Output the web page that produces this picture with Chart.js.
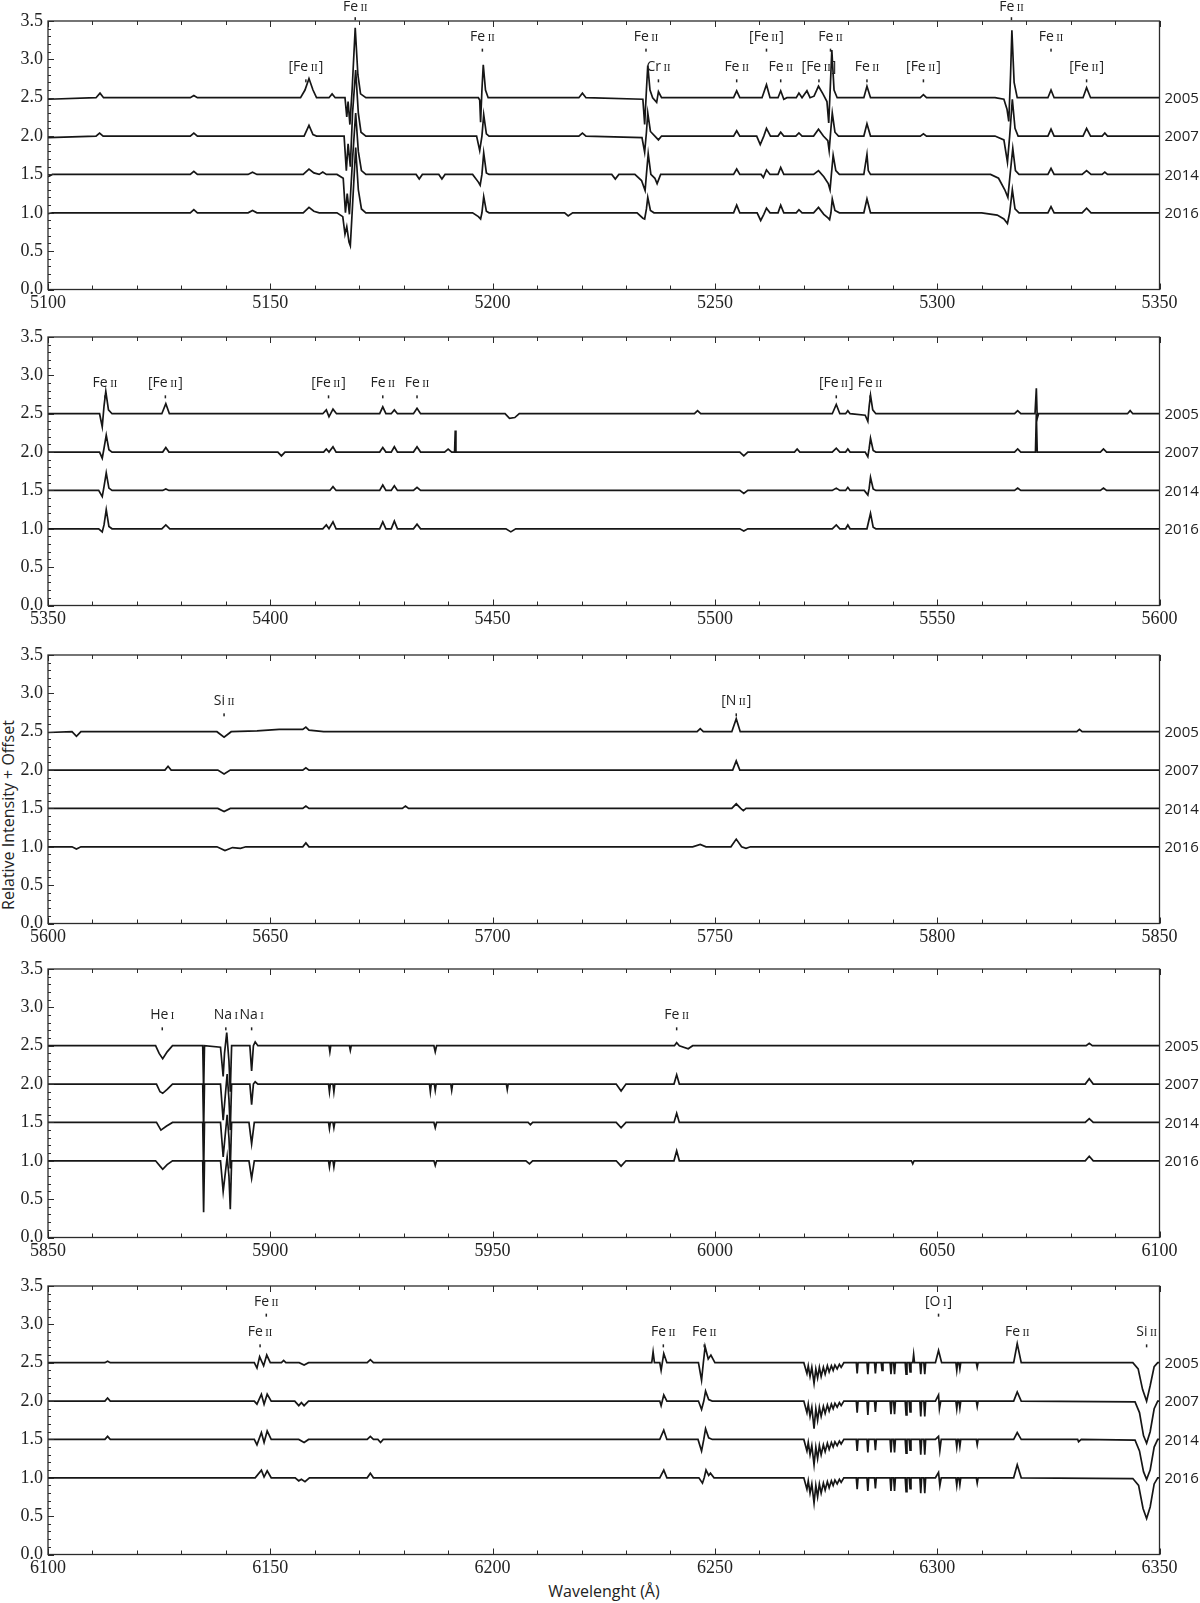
<!DOCTYPE html>
<html><head><meta charset="utf-8">
<script src="https://cdn.jsdelivr.net/npm/chart.js@4.4.1/dist/chart.umd.min.js"></script>
<style>
body{margin:0;background:#fff;width:1200px;height:1603px;position:relative;overflow:hidden}
canvas{position:absolute;left:0}
.anchor{position:absolute;width:0;height:0}
.anchor span{position:absolute;white-space:nowrap;font-family:"Open Sans";color:#222;font-size:16px;transform:translate(-50%,-50%)}
#ylab span{transform:translate(-50%,-50%) rotate(-90deg)}
</style></head><body>
<div class="anchor" id="ylab" style="left:8px;top:815px"><span>Relative Intensity + Offset</span></div>
<div class="anchor" id="xlab" style="left:604px;top:1591px"><span>Wavelenght (Å)</span></div>
<script>
// ---------------- DATA ----------------
const years = ['2005','2007','2014','2016'];
const yearLevels = [2.5, 2.0, 1.5, 1.0];
const yTicks = [0, 0.5, 1.0, 1.5, 2.0, 2.5, 3.0, 3.5];
const xTicks1 = [5100,5150,5200,5250,5300,5350];
const xTicks2 = [5350,5400,5450,5500,5550,5600];
const xTicks3 = [5600,5650,5700,5750,5800,5850];
const xTicks4 = [5850,5900,5950,6000,6050,6100];
const xTicks5 = [6100,6150,6200,6250,6300,6350];

// Panel 1 (5100-5350)
const p1_2005 = [[5100,2.48],[5110.8,2.5],[5111.7,2.56],[5112.5,2.5],[5132,2.5],[5132.8,2.53],[5133.6,2.5],
[5156.8,2.5],[5157.8,2.6],[5158.7,2.75],[5159.6,2.6],[5160.4,2.5],[5163.2,2.5],[5163.9,2.55],[5164.6,2.5],
[5166.8,2.5],[5167.2,2.25],[5167.5,2.45],[5167.9,2.15],[5168.4,2.6],[5169.1,3.41],[5169.7,2.8],[5170.3,2.55],[5171.5,2.5],
[5196.8,2.5],[5197.1,2.47],[5197.3,2.18],[5197.6,2.6],[5197.9,2.93],[5198.4,2.6],[5199,2.5],
[5219.4,2.5],[5220.2,2.56],[5221,2.5],
[5233.8,2.48],[5234.2,2.15],[5234.6,2.6],[5234.9,2.92],[5235.4,2.6],[5236,2.5],[5236.9,2.44],[5237.3,2.58],[5238,2.5],
[5254.2,2.5],[5254.9,2.59],[5255.6,2.5],[5260.6,2.5],[5261.6,2.67],[5262.4,2.5],
[5264.2,2.5],[5264.8,2.59],[5265.5,2.48],[5266.2,2.5],[5268.3,2.5],[5268.9,2.56],[5269.6,2.5],[5270.7,2.59],[5271.4,2.5],
[5272.3,2.52],[5273.3,2.65],[5274.3,2.55],[5275.2,2.45],[5275.6,2.17],[5276.0,2.7],[5276.3,3.12],[5276.8,2.6],[5277.5,2.5],
[5283.5,2.5],[5284.2,2.65],[5285,2.5],[5296.2,2.5],[5296.9,2.54],[5297.6,2.5],
[5313,2.5],[5315,2.48],[5315.7,2.35],[5316.1,2.19],[5316.5,2.8],[5316.8,3.38],[5317.3,2.7],[5318,2.5],
[5324.9,2.5],[5325.6,2.6],[5326.3,2.5],[5332.8,2.5],[5333.6,2.63],[5334.5,2.5],[5350,2.5]];
const p1_2007 = [[5100,1.98],[5110.8,2.0],[5111.6,2.04],[5112.4,2.0],[5132,2.0],[5132.8,2.04],[5133.6,2.0],
[5157.6,2.0],[5158.7,2.14],[5159.6,2.02],[5160.4,2.0],
[5166.6,2.0],[5167.1,1.55],[5167.5,1.9],[5168.0,1.6],[5168.5,2.3],[5169.2,2.86],[5169.8,2.3],[5170.4,2.05],[5171.5,2.0],
[5196.4,2.0],[5197.1,1.81],[5197.6,2.0],[5198.0,2.28],[5198.6,2.03],[5199.2,2.0],
[5219.4,2.0],[5220.2,2.04],[5221,2.0],
[5233.6,1.98],[5234.2,1.79],[5234.6,2.05],[5234.9,2.3],[5235.5,2.06],[5236.5,2.0],[5237.3,1.95],[5238,2.0],
[5254.2,2.0],[5254.9,2.07],[5255.6,2.0],[5259.4,2.0],[5260.2,1.89],[5261.0,2.0],[5261.6,2.1],[5262.5,2.0],
[5264.2,2.0],[5264.8,2.05],[5265.5,2.0],[5268.2,2.0],[5268.9,2.04],[5269.6,2.0],
[5272.2,2.0],[5273.3,2.09],[5274.4,2.0],[5275.4,1.94],[5275.7,1.81],[5276.1,2.1],[5276.4,2.3],[5277,2.05],[5277.8,2.0],
[5283.5,2.0],[5284.2,2.16],[5285,2.0],[5296.2,2.0],[5296.9,2.03],[5297.6,2.0],
[5313,2.0],[5315,1.95],[5315.8,1.66],[5316.3,2.0],[5316.9,2.48],[5317.5,2.1],[5318.2,2.0],
[5324.9,2.0],[5325.6,2.09],[5326.3,2.0],[5332.8,2.0],[5333.6,2.1],[5334.5,2.0],[5337.1,2.0],[5337.7,2.04],[5338.3,2.0],[5350,2.0]];
const p1_2014 = [[5100,1.47],[5101,1.5],[5132,1.5],[5132.8,1.54],[5133.6,1.5],[5145,1.5],[5146,1.53],[5147,1.5],
[5157.4,1.5],[5158.7,1.57],[5159.8,1.52],[5161,1.5],[5161.8,1.53],[5162.6,1.5],
[5165,1.5],[5166.4,1.45],[5166.9,1.0],[5167.3,1.25],[5167.8,0.98],[5168.5,1.7],[5169.2,2.3],[5169.8,1.8],[5170.5,1.55],[5171.5,1.5],
[5182.8,1.5],[5183.5,1.44],[5184.2,1.5],[5187.9,1.5],[5188.6,1.44],[5189.3,1.5],
[5195.5,1.5],[5196.8,1.4],[5197.2,1.36],[5197.6,1.5],[5198.0,1.78],[5198.6,1.52],[5199.2,1.5],
[5226.8,1.5],[5227.6,1.44],[5228.4,1.5],
[5232,1.5],[5233.5,1.42],[5234.3,1.29],[5234.6,1.5],[5235.0,1.77],[5235.6,1.5],[5236.5,1.45],[5237.0,1.38],[5237.8,1.5],
[5254.2,1.5],[5254.9,1.57],[5255.6,1.5],[5260.4,1.5],[5260.9,1.46],[5261.6,1.56],[5262.4,1.5],
[5264.2,1.5],[5264.8,1.59],[5265.5,1.5],
[5272.2,1.5],[5273.3,1.55],[5274.5,1.47],[5275.5,1.38],[5275.9,1.3],[5276.2,1.5],[5276.6,1.75],[5277.2,1.55],[5278,1.5],
[5283.5,1.5],[5284.2,1.76],[5284.5,1.55],[5285,1.5],
[5312,1.5],[5313.8,1.45],[5315.2,1.3],[5315.9,1.2],[5316.4,1.5],[5317.0,1.84],[5317.6,1.55],[5318.4,1.5],
[5324.9,1.5],[5325.6,1.58],[5326.3,1.5],[5332.6,1.5],[5333.6,1.55],[5334.6,1.5],[5337.1,1.5],[5337.7,1.53],[5338.3,1.5],[5350,1.5]];
const p1_2016 = [[5100,0.99],[5101,1.0],[5132,1.0],[5132.8,1.04],[5133.6,1.0],[5145,1.0],[5146,1.03],[5147,1.0],
[5157.4,1.0],[5158.7,1.07],[5159.8,1.02],[5161,1.0],
[5165,1.0],[5166.3,0.95],[5166.8,0.72],[5167.2,0.82],[5167.7,0.62],[5168.0,0.57],[5168.5,1.1],[5169.2,1.85],[5169.8,1.3],[5170.5,1.05],[5171.5,1.0],
[5195.5,1.0],[5196.8,0.95],[5197.3,0.92],[5197.6,1.0],[5198.0,1.21],[5198.6,1.02],[5199.2,1.0],
[5216.2,1.0],[5217,0.96],[5218,1.0],
[5232.5,1.0],[5233.8,0.93],[5234.2,0.92],[5234.6,1.05],[5234.9,1.2],[5235.5,1.03],[5236.3,1.0],
[5254.2,1.0],[5254.9,1.1],[5255.6,1.0],[5259.5,1.0],[5260.3,0.9],[5261.0,0.98],[5261.6,1.06],[5262.4,1.0],
[5264.2,1.0],[5264.8,1.1],[5265.5,1.0],[5268.3,1.0],[5268.9,1.04],[5269.6,1.0],
[5272.2,1.0],[5273.3,1.07],[5274.5,0.98],[5275.5,0.93],[5275.8,0.91],[5276.1,1.0],[5276.4,1.18],[5277,1.03],[5278,1.0],
[5283.5,1.0],[5284.2,1.18],[5285,1.0],
[5310,1.0],[5313.5,0.97],[5315,0.92],[5315.8,0.86],[5316.3,1.0],[5316.9,1.3],[5317.5,1.05],[5318.4,1.0],
[5324.9,1.0],[5325.6,1.08],[5326.3,1.0],[5332.6,1.0],[5333.6,1.06],[5334.6,1.0],[5350,1.0]];

// Panel 2 (5350-5600)
const p2_2005 = [[5350,2.5],[5361.6,2.5],[5362.2,2.33],[5362.6,2.6],[5363.0,2.79],[5363.6,2.55],[5364.4,2.5],
[5375.6,2.5],[5376.5,2.63],[5377.3,2.5],
[5411.8,2.5],[5412.6,2.55],[5413.2,2.46],[5414.1,2.56],[5414.9,2.5],
[5424.6,2.5],[5425.3,2.59],[5426.0,2.5],[5427.2,2.5],[5427.9,2.55],[5428.6,2.5],[5432.2,2.5],[5433.0,2.57],[5433.8,2.5],
[5452.8,2.5],[5453.8,2.44],[5455,2.45],[5456,2.5],[5495.4,2.5],[5496.1,2.54],[5496.8,2.5],
[5526.4,2.5],[5527.3,2.62],[5528.1,2.5],[5529.4,2.5],[5529.9,2.54],[5530.4,2.5],
[5533.8,2.48],[5534.4,2.4],[5534.7,2.6],[5535.0,2.74],[5535.5,2.55],[5536.2,2.5],
[5567.4,2.5],[5568.1,2.54],[5568.8,2.5],[5572.0,2.5],[5572.3,2.83],[5572.5,2.44],[5572.8,2.5],
[5592.8,2.5],[5593.4,2.54],[5594,2.5],[5600,2.5]];
const p2_2007 = [[5350,2.0],[5361.6,2.0],[5362.2,1.92],[5362.6,2.05],[5363.1,2.22],[5363.7,2.03],[5364.4,2.0],
[5375.8,2.0],[5376.5,2.06],[5377.2,2.0],[5401.7,2.0],[5402.5,1.95],[5403.3,2.0],
[5412.0,2.0],[5412.6,2.04],[5413.2,2.0],[5414.1,2.07],[5414.8,2.0],
[5424.6,2.0],[5425.3,2.06],[5426.0,2.0],[5427.2,2.0],[5427.9,2.07],[5428.6,2.0],[5432.2,2.0],[5433.0,2.07],[5433.8,2.0],
[5439.2,2.0],[5440,2.04],[5440.8,2.0],[5441.45,2.0],[5441.6,2.28],[5441.75,2.0],
[5505.6,2.0],[5506.5,1.95],[5507.4,2.0],[5517.9,2.0],[5518.5,2.04],[5519.1,2.0],
[5526.4,2.0],[5527.3,2.05],[5528.1,2.0],[5529.4,2.0],[5529.9,2.04],[5530.4,2.0],
[5533.8,2.0],[5534.4,1.94],[5534.7,2.05],[5535.0,2.18],[5535.6,2.02],[5536.2,2.0],
[5567.4,2.0],[5568.1,2.04],[5568.8,2.0],[5572.1,2.0],[5572.3,2.5],[5572.5,2.0],
[5586.7,2.0],[5587.4,2.04],[5588.1,2.0],[5600,2.0]];
const p2_2014 = [[5350,1.5],[5361.4,1.5],[5362.2,1.42],[5362.6,1.55],[5363.1,1.73],[5363.7,1.53],[5364.4,1.5],
[5375.8,1.5],[5376.5,1.52],[5377.2,1.5],[5413.4,1.5],[5414.1,1.55],[5414.8,1.5],
[5424.6,1.5],[5425.3,1.57],[5426.0,1.5],[5427.2,1.5],[5427.9,1.56],[5428.6,1.5],[5432.2,1.5],[5433.0,1.54],[5433.8,1.5],
[5505.6,1.5],[5506.5,1.46],[5507.4,1.5],[5526.4,1.5],[5527.3,1.53],[5528.1,1.5],[5529.4,1.5],[5529.9,1.54],[5530.4,1.5],
[5533.6,1.5],[5534.4,1.44],[5534.7,1.53],[5535.0,1.67],[5535.6,1.52],[5536.2,1.5],
[5567.4,1.5],[5568.1,1.53],[5568.8,1.5],[5586.7,1.5],[5587.4,1.53],[5588.1,1.5],[5600,1.5]];
const p2_2016 = [[5350,1.0],[5361.4,1.0],[5362.2,0.96],[5362.6,1.05],[5363.1,1.25],[5363.7,1.03],[5364.4,1.0],
[5375.6,1.0],[5376.5,1.05],[5377.4,1.0],
[5411.8,1.0],[5412.6,1.05],[5413.2,1.0],[5414.1,1.09],[5414.8,1.0],
[5424.6,1.0],[5425.3,1.09],[5426.0,1.0],[5427.2,1.0],[5427.9,1.1],[5428.6,1.0],[5432.2,1.0],[5433.0,1.06],[5433.8,1.0],
[5453,1.0],[5454.1,0.96],[5455.2,1.0],[5505.6,1.0],[5506.5,0.97],[5507.4,1.0],
[5526.4,1.0],[5527.3,1.05],[5528.1,1.0],[5529.4,1.0],[5529.9,1.05],[5530.4,1.0],
[5534.2,1.0],[5535.0,1.2],[5535.6,1.02],[5536.2,1.0],[5600,1.0]];

// Panel 3 (5600-5850)
const p3_2005 = [[5600,2.49],[5605.4,2.5],[5606.4,2.44],[5607.4,2.5],[5638,2.5],[5639.6,2.43],[5641.2,2.5],
[5647,2.51],[5652,2.53],[5657.3,2.53],[5658,2.56],[5658.7,2.52],[5662,2.5],
[5746,2.5],[5746.7,2.54],[5747.4,2.5],[5753.8,2.5],[5754.8,2.67],[5755.7,2.5],
[5831.4,2.5],[5832,2.53],[5832.6,2.5],[5850,2.5]];
const p3_2007 = [[5600,2.0],[5626.3,2.0],[5627,2.05],[5627.7,2.0],[5638.2,2.0],[5639.6,1.95],[5641,2.0],
[5657.3,2.0],[5658,2.03],[5658.7,2.0],[5754,2.0],[5754.8,2.12],[5755.6,2.0],[5850,2.0]];
const p3_2014 = [[5600,1.5],[5638.2,1.5],[5639.6,1.46],[5641,1.5],[5657.3,1.5],[5658,1.53],[5658.7,1.5],
[5679.7,1.5],[5680.4,1.53],[5681.1,1.5],[5753.8,1.5],[5754.8,1.56],[5755.8,1.5],[5756.4,1.47],[5757,1.5],[5850,1.5]];
const p3_2016 = [[5600,1.0],[5605.4,1.0],[5606.4,0.97],[5607.4,1.0],[5638,1.0],[5639.8,0.95],[5641.5,0.99],[5643.3,0.98],[5644.5,1.0],
[5657.3,1.0],[5658,1.05],[5658.7,1.0],[5745,1.0],[5746.7,1.03],[5748,1.0],
[5753.6,1.0],[5754.8,1.1],[5756,1.0],[5757,0.98],[5758,1.0],[5850,1.0]];

// Panel 4 (5850-6100)
const p4_2005 = [[5850,2.5],[5874.2,2.5],[5875.0,2.4],[5875.8,2.33],[5876.8,2.42],[5878,2.5],
[5884.8,2.5],[5885.0,1.9],[5885.2,2.5],
[5888.8,2.48],[5889.4,2.1],[5889.7,2.4],[5890.2,2.67],[5890.7,2.3],[5891.0,1.9],[5891.3,2.5],
[5895.4,2.5],[5895.8,2.17],[5896.2,2.5],[5896.6,2.55],[5897.2,2.5],
[5913.2,2.5],[5913.4,2.42],[5913.6,2.5],[5917.8,2.5],[5918,2.44],[5918.2,2.5],
[5936.8,2.5],[5937.1,2.42],[5937.4,2.5],
[5990.9,2.5],[5991.4,2.54],[5992.0,2.5],[5994.0,2.46],[5995,2.5],
[6083.5,2.5],[6084.2,2.53],[6084.9,2.5],[6100,2.5]];
const p4_2007 = [[5850,2.0],[5874.4,2.0],[5875.2,1.9],[5875.8,1.88],[5876.8,1.93],[5878,2.0],
[5884.8,2.0],[5885.0,1.4],[5885.2,2.0],
[5888.8,2.0],[5889.4,1.53],[5889.8,1.8],[5890.3,2.13],[5890.7,1.8],[5891.0,1.4],[5891.3,2.0],
[5895.4,2.0],[5895.8,1.73],[5896.2,2.0],[5896.6,2.03],[5897.2,2.0],
[5913.1,2.0],[5913.3,1.9],[5913.5,2.0],[5914.1,2.0],[5914.3,1.9],[5914.5,2.0],
[5935.8,2.0],[5936.0,1.9],[5936.2,2.0],[5936.9,2.0],[5937.1,1.92],[5937.3,2.0],
[5940.6,2.0],[5940.8,1.92],[5941,2.0],[5953.1,2.0],[5953.3,1.93],[5953.5,2.0],
[5977.8,2.0],[5978.9,1.91],[5980,2.0],[5990.8,2.0],[5991.4,2.12],[5992.0,2.0],
[6083.3,2.0],[6084.2,2.07],[6085.1,2.0],[6100,2.0]];
const p4_2014 = [[5850,1.5],[5874.4,1.5],[5875.4,1.4],[5876.6,1.45],[5878,1.5],
[5884.8,1.5],[5885.0,0.85],[5885.2,1.5],
[5888.8,1.5],[5889.4,1.05],[5889.8,1.3],[5890.3,1.6],[5890.7,1.3],[5891.0,0.9],[5891.3,1.5],
[5895.2,1.5],[5895.8,1.22],[5896.4,1.5],
[5913.1,1.5],[5913.3,1.42],[5913.5,1.5],[5914.1,1.5],[5914.3,1.43],[5914.5,1.5],
[5936.8,1.5],[5937.1,1.43],[5937.4,1.5],[5958,1.5],[5958.5,1.47],[5959,1.5],
[5977.8,1.5],[5978.9,1.43],[5980,1.5],[5990.8,1.5],[5991.4,1.62],[5992.0,1.5],
[6083.3,1.5],[6084.2,1.55],[6085.1,1.5],[6100,1.5]];
const p4_2016 = [[5850,1.0],[5874.2,1.0],[5875.2,0.93],[5875.8,0.89],[5876.8,0.95],[5878,1.0],
[5884.8,1.0],[5885.0,0.33],[5885.2,1.0],
[5888.8,1.0],[5889.4,0.6],[5889.8,0.8],[5890.3,1.05],[5890.7,0.8],[5891.0,0.37],[5891.3,1.0],
[5895.2,1.0],[5895.8,0.77],[5896.4,1.0],
[5913.1,1.0],[5913.3,0.92],[5913.5,1.0],[5914.1,1.0],[5914.3,0.92],[5914.5,1.0],
[5936.8,1.0],[5937.1,0.94],[5937.4,1.0],[5957.5,1.0],[5958.3,0.96],[5959,1.0],
[5977.8,1.0],[5978.9,0.93],[5980,1.0],[5990.8,1.0],[5991.4,1.13],[5992.0,1.0],
[6044.2,1.0],[6044.5,0.96],[6044.8,1.0],[6083.3,1.0],[6084.2,1.06],[6085.1,1.0],[6100,1.0]];

// Panel 5 (6100-6350)
const p5_2005 = [[6100,2.5],[6112.8,2.5],[6113.4,2.52],[6114,2.5],
[6146.4,2.5],[6147.0,2.43],[6147.6,2.58],[6148.2,2.5],[6148.5,2.46],[6149.2,2.6],[6150.0,2.5],
[6152.5,2.5],[6153,2.53],[6153.5,2.5],[6156.5,2.5],[6157.6,2.47],[6158.6,2.5],
[6171.8,2.5],[6172.5,2.54],[6173.2,2.5],[6235.8,2.5],[6236.1,2.64],[6236.4,2.5],
[6237.6,2.5],[6237.9,2.4],[6238.5,2.62],[6239.2,2.5],
[6246.3,2.5],[6247.0,2.27],[6247.4,2.5],[6247.8,2.71],[6248.5,2.55],[6249.1,2.6],[6250.0,2.5],
[6270,2.5],[6270.7,2.36],[6271.0,2.46],[6271.4,2.32],[6271.8,2.44],[6272.3,2.23],[6272.7,2.42],[6273.1,2.3],[6273.5,2.44],[6273.9,2.32],[6274.4,2.44],[6274.8,2.35],[6275.3,2.46],[6275.7,2.38],[6276.2,2.46],[6276.6,2.4],[6277,2.47],[6277.5,2.42],[6278,2.48],[6278.4,2.44],[6279,2.5],
[6281.8,2.5],[6282.0,2.36],[6282.2,2.5],[6284.2,2.5],[6284.4,2.35],[6284.6,2.5],[6285.9,2.5],[6286.1,2.36],[6286.3,2.5],
[6287.4,2.5],[6287.6,2.4],[6287.8,2.5],[6289.4,2.5],[6289.6,2.35],[6289.8,2.5],[6290.2,2.5],[6290.4,2.35],[6290.6,2.5],
[6292.8,2.5],[6293.0,2.35],[6293.2,2.5],[6293.7,2.5],[6293.9,2.38],[6294.1,2.5],[6294.5,2.5],[6294.7,2.61],[6294.9,2.5],
[6296.1,2.5],[6296.3,2.35],[6296.5,2.5],[6297.0,2.5],[6297.2,2.35],[6297.4,2.5],
[6299.6,2.5],[6300.3,2.66],[6301.0,2.5],
[6304.2,2.5],[6304.4,2.4],[6304.6,2.5],[6304.9,2.5],[6305.1,2.42],[6305.3,2.5],[6308.8,2.5],[6309.0,2.44],[6309.2,2.5],
[6317.2,2.5],[6318.0,2.75],[6318.9,2.5],
[6344,2.5],[6345.2,2.42],[6346.2,2.15],[6347.1,2.0],[6347.9,2.2],[6348.8,2.45],[6349.6,2.5],[6350,2.5]];
const p5_2007 = [[6100,2.0],[6112.8,2.0],[6113.4,2.04],[6114,2.0],
[6146.4,2.0],[6147.0,1.96],[6148.0,2.09],[6148.6,1.96],[6149.3,2.09],[6150.2,2.0],
[6155.5,2.0],[6156.4,1.94],[6157,1.98],[6157.6,1.94],[6158.6,2.0],
[6237.6,2.0],[6237.9,1.94],[6238.5,2.08],[6239.2,2.0],
[6246.3,2.0],[6247.0,1.89],[6247.5,2.0],[6247.9,2.13],[6248.6,2.02],[6249.4,2.0],
[6270,2.0],[6270.7,1.85],[6271.0,1.96],[6271.4,1.8],[6271.8,1.92],[6272.3,1.64],[6272.7,1.9],[6273.1,1.75],[6273.5,1.92],[6273.9,1.8],[6274.4,1.93],[6274.8,1.84],[6275.3,1.95],[6275.7,1.87],[6276.2,1.96],[6276.6,1.9],[6277,1.97],[6277.5,1.92],[6278,1.98],[6278.4,1.94],[6279,2.0],
[6281.8,2.0],[6282.0,1.85],[6282.2,2.0],[6284.2,2.0],[6284.4,1.82],[6284.6,2.0],[6285.9,2.0],[6286.1,1.86],[6286.3,2.0],
[6289.4,2.0],[6289.6,1.83],[6289.8,2.0],[6290.2,2.0],[6290.4,1.83],[6290.6,2.0],
[6292.8,2.0],[6293.0,1.82],[6293.2,2.0],[6293.7,2.0],[6293.9,1.86],[6294.1,2.0],
[6296.1,2.0],[6296.3,1.8],[6296.5,2.0],[6297.0,2.0],[6297.2,1.8],[6297.4,2.0],
[6299.6,2.0],[6300.3,2.08],[6300.5,1.9],[6300.8,2.0],
[6304.2,2.0],[6304.4,1.9],[6304.6,2.0],[6304.9,2.0],[6305.1,1.91],[6305.3,2.0],[6308.8,2.0],[6309.0,1.93],[6309.2,2.0],
[6317.2,2.0],[6318.0,2.12],[6318.9,2.0],
[6344.5,1.99],[6345.5,1.85],[6346.4,1.55],[6347.1,1.45],[6347.9,1.6],[6348.8,1.9],[6349.6,2.0],[6350,2.0]];
const p5_2014 = [[6100,1.5],[6112.8,1.5],[6113.4,1.54],[6114,1.5],
[6146.4,1.5],[6147.0,1.43],[6148.0,1.59],[6148.6,1.46],[6149.3,1.61],[6150.2,1.5],
[6156.4,1.5],[6157.6,1.46],[6158.6,1.5],[6171.8,1.5],[6172.5,1.54],[6173.2,1.5],[6174.2,1.5],[6174.8,1.46],[6175.4,1.5],
[6237.6,1.5],[6238.5,1.62],[6239.2,1.5],
[6246.2,1.5],[6247.0,1.35],[6247.5,1.5],[6247.9,1.64],[6248.6,1.52],[6249.4,1.5],
[6270,1.5],[6270.7,1.35],[6271.0,1.46],[6271.4,1.3],[6271.8,1.42],[6272.3,1.17],[6272.7,1.4],[6273.1,1.25],[6273.5,1.42],[6273.9,1.3],[6274.4,1.43],[6274.8,1.34],[6275.3,1.45],[6275.7,1.37],[6276.2,1.46],[6276.6,1.4],[6277,1.47],[6277.5,1.42],[6278,1.48],[6278.4,1.44],[6279,1.5],
[6281.8,1.5],[6282.0,1.35],[6282.2,1.5],[6284.2,1.5],[6284.4,1.33],[6284.6,1.5],[6285.9,1.5],[6286.1,1.36],[6286.3,1.5],
[6289.4,1.5],[6289.6,1.33],[6289.8,1.5],[6290.2,1.5],[6290.4,1.33],[6290.6,1.5],
[6292.8,1.5],[6293.0,1.32],[6293.2,1.5],[6293.7,1.5],[6293.9,1.36],[6294.1,1.5],
[6296.1,1.5],[6296.3,1.3],[6296.5,1.5],[6297.0,1.5],[6297.2,1.3],[6297.4,1.5],
[6299.6,1.5],[6300.3,1.54],[6300.6,1.36],[6300.9,1.5],
[6304.2,1.5],[6304.4,1.4],[6304.6,1.5],[6304.9,1.5],[6305.1,1.41],[6305.3,1.5],[6308.8,1.5],[6309.0,1.43],[6309.2,1.5],
[6317.2,1.5],[6318.0,1.59],[6318.9,1.5],[6331.6,1.5],[6331.8,1.47],[6332.4,1.5],
[6344.5,1.49],[6345.5,1.35],[6346.4,1.08],[6347.1,0.98],[6347.9,1.1],[6348.8,1.4],[6349.6,1.5],[6350,1.5]];
const p5_2016 = [[6100,1.0],
[6146.6,1.0],[6148.0,1.1],[6148.6,1.01],[6149.3,1.09],[6150.2,1.0],
[6155.6,1.0],[6156.4,0.96],[6157,0.98],[6157.8,0.95],[6158.8,1.0],[6171.8,1.0],[6172.5,1.06],[6173.2,1.0],
[6237.6,1.0],[6238.5,1.1],[6239.2,1.0],
[6246.4,1.0],[6247.2,0.93],[6247.6,1.0],[6248.0,1.1],[6248.6,1.03],[6249.0,1.06],[6249.8,1.0],
[6270,1.0],[6270.7,0.85],[6271.0,0.96],[6271.4,0.8],[6271.8,0.92],[6272.3,0.67],[6272.7,0.9],[6273.1,0.75],[6273.5,0.92],[6273.9,0.8],[6274.4,0.93],[6274.8,0.84],[6275.3,0.95],[6275.7,0.87],[6276.2,0.96],[6276.6,0.9],[6277,0.97],[6277.5,0.92],[6278,0.98],[6278.4,0.94],[6279,1.0],
[6281.8,1.0],[6282.0,0.85],[6282.2,1.0],[6284.2,1.0],[6284.4,0.83],[6284.6,1.0],[6285.9,1.0],[6286.1,0.86],[6286.3,1.0],
[6289.4,1.0],[6289.6,0.83],[6289.8,1.0],[6290.2,1.0],[6290.4,0.83],[6290.6,1.0],
[6292.8,1.0],[6293.0,0.82],[6293.2,1.0],[6293.7,1.0],[6293.9,0.86],[6294.1,1.0],
[6296.1,1.0],[6296.3,0.8],[6296.5,1.0],[6297.0,1.0],[6297.2,0.8],[6297.4,1.0],
[6299.6,1.0],[6300.3,1.07],[6300.6,0.9],[6300.9,1.0],
[6304.2,1.0],[6304.4,0.9],[6304.6,1.0],[6304.9,1.0],[6305.1,0.91],[6305.3,1.0],[6308.8,1.0],[6309.0,0.93],[6309.2,1.0],
[6317.2,1.0],[6318.0,1.17],[6318.9,1.0],
[6344.0,0.99],[6345.3,0.9],[6346.3,0.6],[6347.1,0.47],[6347.9,0.62],[6348.8,0.92],[6349.6,1.0],[6350,1.0]];

// Line identifications: [wavelength, label, tier]  (tier 0 = low, 1 = high, 2 = above frame)
const lines1 = [[5158.0,'[Fe II]',0],[5169.1,'Fe II',2],[5197.7,'Fe II',1],[5234.5,'Fe II',1],[5237.3,'Cr II',0],
[5254.9,'Fe II',0],[5261.6,'[Fe II]',1],[5264.8,'Fe II',0],[5273.4,'[Fe II]',0],[5276.0,'Fe II',1],
[5284.2,'Fe II',0],[5296.9,'[Fe II]',0],[5316.7,'Fe II',2],[5325.6,'Fe II',1],[5333.6,'[Fe II]',0]];
const lines2 = [[5362.8,'Fe II',0],[5376.4,'[Fe II]',0],[5413.1,'[Fe II]',0],[5425.3,'Fe II',0],[5433.0,'Fe II',0],
[5527.3,'[Fe II]',0],[5534.9,'Fe II',0]];
const lines3 = [[5639.6,'Si II',0],[5754.8,'[N II]',0]];
const lines4 = [[5875.7,'He I',0],[5890.0,'Na I',0],[5895.8,'Na I',0],[5991.4,'Fe II',0]];
const lines5 = [[6147.7,'Fe II',0],[6149.1,'Fe II',1],[6238.4,'Fe II',0],[6247.6,'Fe II',0],[6300.3,'[O I]',1],
[6318.0,'Fe II',0],[6347.1,'Si II',0]];

// ---------------- DRAWING ----------------
const panels = [
  {xt:xTicks1, series:[p1_2005,p1_2007,p1_2014,p1_2016], lines:lines1},
  {xt:xTicks2, series:[p2_2005,p2_2007,p2_2014,p2_2016], lines:lines2},
  {xt:xTicks3, series:[p3_2005,p3_2007,p3_2014,p3_2016], lines:lines3},
  {xt:xTicks4, series:[p4_2005,p4_2007,p4_2014,p4_2016], lines:lines4},
  {xt:xTicks5, series:[p5_2005,p5_2007,p5_2014,p5_2016], lines:lines5}
];
const panelTop = [20.5, 337, 654.5, 969, 1286.3];
const areaH = 268.5, padTop = 30, canvasH = 330, plotLeft = 48, plotRight = 1159.5;
const tierText = [2.91, 3.31, 3.69], tierDot = [2.72, 3.12, 3.53];

function drawIon(ctx, x, y, label){
  const m = label.match(/^(\[?)([A-Za-z]+)\s([IVX]+)(\]?)$/);
  const a = m[1]+m[2], b = m[3], c = m[4];
  const fA = '14px "Open Sans"', fB = '10.5px "Liberation Serif"';
  ctx.font = fA; const wa = ctx.measureText(a).width, wc = ctx.measureText(c).width;
  ctx.font = fB; const wb = ctx.measureText(b).width;
  const gap = 2.5, tot = wa + gap + wb + (c ? 1 + wc : 0);
  let px = x - tot/2; const base = y + 5;
  ctx.textAlign = 'left'; ctx.textBaseline = 'alphabetic';
  ctx.font = fA; ctx.fillText(a, px, base); px += wa + gap;
  ctx.font = fB; ctx.fillText(b, px, base); px += wb + 1;
  if (c){ ctx.font = fA; ctx.fillText(c, px, base); }
}

const deco = {
  id:'deco',
  afterDatasetsDraw(chart){
    const {ctx, chartArea:a, scales:{x, y}} = chart;
    const cfg = chart.options.plugins.deco;
    ctx.save();
    ctx.strokeStyle = '#2b2b2b';
    ctx.lineWidth = 1;
    ctx.beginPath();
    for (let v = x.min; v <= x.max + 1e-6; v += 10){
      const px = Math.round(x.getPixelForValue(v)) + 0.5;
      const L = (Math.abs(v % 50) < 1e-6) ? 6 : 4;
      ctx.moveTo(px, a.bottom); ctx.lineTo(px, a.bottom - L);
      ctx.moveTo(px, a.top); ctx.lineTo(px, a.top + L);
    }
    for (let k = 0; k <= 35; k++){
      const v = k/10, py = Math.round(y.getPixelForValue(v)) + 0.5;
      const L = (k % 5 === 0) ? 6 : 3;
      ctx.moveTo(a.left, py); ctx.lineTo(a.left + L, py);
    }
    ctx.stroke();
    ctx.lineWidth = 1.3;
    ctx.strokeRect(a.left, a.top, a.right - a.left, a.bottom - a.top);
    ctx.fillStyle = '#222';
    ctx.font = '15px "Open Sans"';
    ctx.textAlign = 'left'; ctx.textBaseline = 'middle';
    years.forEach((yr, i) => ctx.fillText(yr, a.right + 5, y.getPixelForValue(yearLevels[i]) + 1));
    cfg.lines.forEach(([w, lab, t]) => {
      const px = x.getPixelForValue(w);
      drawIon(ctx, px, y.getPixelForValue(tierText[t]), lab);
      const py = y.getPixelForValue(tierDot[t]);
      ctx.fillRect(px - 0.75, py - 1.5, 1.5, 3);
    });
    ctx.restore();
  }
};

panels.forEach((p, i) => {
  const cv = document.createElement('canvas');
  cv.width = 1200; cv.height = canvasH;
  cv.style.top = (panelTop[i] - padTop) + 'px';
  document.body.appendChild(cv);
  new Chart(cv, {
    type:'line',
    data:{datasets: p.series.map((arr, k) => ({
      label: years[k],
      data: arr.map(([wx, wy]) => ({x: wx, y: wy})),
      borderColor:'#161616', borderWidth:1.7, pointRadius:0, tension:0, fill:false
    }))},
    options:{
      responsive:false, animation:false, devicePixelRatio:1, events:[],
      layout:{padding:{top:padTop, right:1200 - plotRight, left:0, bottom:0}},
      plugins:{legend:{display:false}, tooltip:{enabled:false}, deco:{lines:p.lines}},
      scales:{
        x:{type:'linear', min:p.xt[0], max:p.xt[p.xt.length-1],
           afterBuildTicks: s => { s.ticks = p.xt.map(v => ({value:v})); },
           afterFit: s => { s.height = canvasH - padTop - areaH; },
           ticks:{font:{family:'Liberation Serif', size:18}, color:'#222', padding:3, maxRotation:0, autoSkip:false,
                  callback: v => String(v)},
           grid:{display:false, drawTicks:false}, border:{display:false}},
        y:{min:0, max:3.5,
           afterBuildTicks: s => { s.ticks = yTicks.map(v => ({value:v})); },
           afterFit: s => { s.width = plotLeft; },
           ticks:{font:{family:'Liberation Serif', size:18}, color:'#222', padding:5,
                  callback: v => Number(v).toFixed(1)},
           grid:{display:false, drawTicks:false}, border:{display:false}}
      }
    },
    plugins:[deco]
  });
});
</script>
</body></html>
